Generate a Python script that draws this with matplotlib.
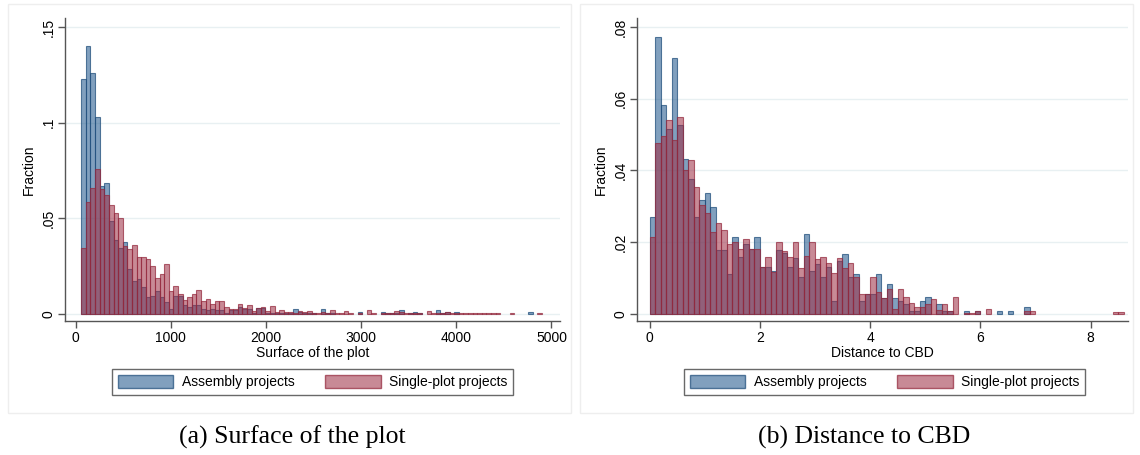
import numpy as np
import matplotlib
matplotlib.use("Agg")
import matplotlib.pyplot as plt
from matplotlib.patches import Patch, Rectangle

# ---------------- data ----------------
# (a) Surface of the plot: 100 bins
surf_bin_start = 58.0
surf_bin_width = 48.4
surf_assembly = [
    0.123, 0.140, 0.126, 0.103, 0.0668, 0.0685, 0.0488, 0.0385, 0.0344, 0.0376,
    0.0234, 0.017, 0.018, 0.014, 0.0086, 0.0094, 0.0119, 0.0091, 0.0063, 0.0028,
    0.0094, 0.0094, 0.0045, 0.0037, 0.0045, 0.0045, 0.0028, 0.002, 0.0028, 0.0019,
    0.0019, 0.0007, 0.0019, 0.0019, 0.0037, 0.0028, 0.0024, 0.0007, 0.003, 0.003,
    0.0007, 0.0007, 0.0007, 0.0003, 0.0003, 0.0003, 0.0028, 0.001, 0.0003, 0.0003,
    0.0003, 0, 0.0026, 0.0003, 0.0003, 0, 0, 0, 0, 0,
    0.0009, 0, 0, 0, 0, 0.0009, 0.0003, 0.0003, 0.0005, 0.0019,
    0, 0.0005, 0.0009, 0.0003, 0, 0, 0, 0.0019, 0.0003, 0.0009,
    0, 0.0009, 0, 0, 0, 0, 0, 0, 0, 0,
    0, 0, 0, 0, 0, 0, 0, 0.0009, 0, 0,
]
surf_single = [
    0.0343, 0.0587, 0.0659, 0.0759, 0.0654, 0.062, 0.0568, 0.0526, 0.05, 0.0355,
    0.0339, 0.036, 0.0295, 0.0295, 0.0287, 0.0252, 0.019, 0.0208, 0.0262, 0.012,
    0.0147, 0.0105, 0.0073, 0.0087, 0.0105, 0.0124, 0.007, 0.008, 0.0052, 0.007,
    0.0066, 0.0037, 0.0028, 0.0028, 0.0052, 0.003, 0.0045, 0.0017, 0.0031, 0.0037,
    0.0017, 0.004, 0.001, 0.002, 0.001, 0.001, 0.0007, 0.0014, 0.0009, 0.0014,
    0.0007, 0.0007, 0.001, 0.0007, 0.0021, 0.0007, 0.0007, 0.0014, 0.0007, 0,
    0.0005, 0, 0.0023, 0.0007, 0, 0.0005, 0.0007, 0.0007, 0.0017, 0.0012,
    0.0007, 0.0007, 0.0005, 0.0007, 0, 0.0016, 0.0007, 0.0007, 0.0007, 0.0011,
    0.0007, 0.0005, 0.0007, 0.0007, 0.0007, 0.0007, 0.0007, 0.0007, 0.0007, 0.0007,
    0.0007, 0, 0, 0.0007, 0, 0, 0, 0, 0, 0.0007,
]
surf_xticks = [0, 1000, 2000, 3000, 4000, 5000]
surf_yticks = [0, 0.05, 0.10, 0.15]
surf_yticklabels = ["0", ".05", ".1", ".15"]

# (b) Distance to CBD: 86 bins
dist_bin_start = 0.0
dist_bin_width = 0.1
dist_assembly = [
    0.0271, 0.0771, 0.0582, 0.0517, 0.0714, 0.0526, 0.0432, 0.0375, 0.0271, 0.0318,
    0.0337, 0.0299, 0.0179, 0.0179, 0.0112, 0.0214, 0.016, 0.0196, 0.0182, 0.0214,
    0.0132, 0.013, 0.0121, 0.0177, 0.017, 0.0131, 0.0157, 0.0102, 0.0223, 0.012,
    0.0139, 0.0102, 0.013, 0.0036, 0.0148, 0.0167, 0.0102, 0.0111, 0.0036, 0.0056,
    0.0056, 0.0111, 0.0044, 0.0083, 0.0045, 0.0036, 0.0028, 0.0007, 0.0007, 0.0036,
    0.0046, 0, 0.0027, 0.0008, 0.0008, 0, 0, 0.0008, 0, 0.0008,
    0, 0, 0, 0.0008, 0, 0.0008, 0, 0, 0.0019, 0,
    0, 0, 0, 0, 0, 0, 0, 0, 0, 0,
    0, 0, 0, 0, 0, 0,
]
dist_single = [
    0.0214, 0.0478, 0.0497, 0.0541, 0.0484, 0.055, 0.0402, 0.043, 0.0353, 0.0305,
    0.0281, 0.0229, 0.0253, 0.0233, 0.0195, 0.02, 0.018, 0.021, 0.0182, 0.018,
    0.0132, 0.016, 0.0117, 0.02, 0.0176, 0.016, 0.02, 0.0128, 0.0161, 0.02,
    0.0152, 0.016, 0.0141, 0.0113, 0.0156, 0.0128, 0.0141, 0.0102, 0.0056, 0.0056,
    0.0104, 0.0061, 0.0044, 0.0069, 0.0014, 0.007, 0.0046, 0.0031, 0.0019, 0.0019,
    0.0028, 0.0042, 0.0011, 0.0027, 0.0008, 0.0046, 0, 0.0004, 0.0004, 0.0008,
    0, 0.0013, 0, 0, 0, 0, 0, 0, 0.0008, 0.0008,
    0, 0, 0, 0, 0, 0, 0, 0, 0, 0,
    0, 0, 0, 0, 0.0005, 0.0005,
]
dist_xticks = [0, 2, 4, 6, 8]
dist_yticks = [0, 0.02, 0.04, 0.06, 0.08]
dist_yticklabels = ["0", ".02", ".04", ".06", ".08"]

series_labels = ["Assembly projects", "Single-plot projects"]
captions = ["(a) Surface of the plot", "(b) Distance to CBD"]
xlabels = ["Surface of the plot", "Distance to CBD"]

# ---------------- style ----------------
SANS = ["Liberation Sans", "DejaVu Sans"]
SERIF = ["Liberation Serif", "DejaVu Serif"]
plt.rcParams["font.family"] = SANS

ALPHA = 0.56
BLUE_FACE = (0.12, 0.34, 0.55, ALPHA)
BLUE_EDGE = (0.12, 0.30, 0.48, 0.72)
RED_FACE = (0.62, 0.18, 0.27, ALPHA)
RED_EDGE = (0.58, 0.16, 0.24, 0.72)
GRID = "#e8f0f2"
AXC = "#555555"

fig = plt.figure(figsize=(11.4, 4.55), dpi=100)
W, H = 1140, 455


def fx(px):
    return px / W


def fy(py):
    return 1 - py / H


# faint outer graph-region borders
for (l, r) in [(8, 571), (580, 1133)]:
    fig.patches.append(Rectangle((fx(l), fy(413)), fx(r - l), (413 - 4) / H,
                                 transform=fig.transFigure, fill=False,
                                 edgecolor="#eeeeee", linewidth=1.0, zorder=0))


def draw_panel(ax_rect, start, width, assembly, single, xlim, ylim,
               xticks, yticks, yticklabels, xlabel):
    ax = fig.add_axes(ax_rect)
    n = len(assembly)
    edges = start + width * np.arange(n)
    a = np.asarray(assembly)
    s = np.asarray(single)
    ma = a > 0
    ms = s > 0
    ax.bar(edges[ma], a[ma], width=width, align="edge",
           facecolor=BLUE_FACE, edgecolor=BLUE_EDGE, linewidth=0.8, zorder=2)
    ax.bar(edges[ms], s[ms], width=width, align="edge",
           facecolor=RED_FACE, edgecolor=RED_EDGE, linewidth=0.8, zorder=3)
    ax.set_xlim(*xlim)
    ax.set_ylim(*ylim)
    ax.set_xticks(xticks)
    ax.set_xticklabels([str(t) for t in xticks])
    ax.set_yticks(yticks)
    ax.set_yticklabels(yticklabels, rotation=90, va="center")
    for t in yticks:
        ax.axhline(t, color=GRID, linewidth=1.0, zorder=1)
    for sp in ["top", "right"]:
        ax.spines[sp].set_visible(False)
    for sp in ["left", "bottom"]:
        ax.spines[sp].set_color(AXC)
        ax.spines[sp].set_linewidth(1.0)
    ax.tick_params(axis="both", direction="out", length=5, width=1.0,
                   color=AXC, labelsize=10, labelcolor="black", pad=2)
    ax.set_xlabel(xlabel, fontsize=10, labelpad=1)
    ax.set_ylabel("Fraction", fontsize=10, labelpad=4)
    ax.patch.set_alpha(0)
    return ax


ax1 = draw_panel([fx(65), fy(321), fx(560 - 65), (321 - 18) / H],
                 surf_bin_start, surf_bin_width, surf_assembly, surf_single,
                 xlim=(-113, 5090), ylim=(-0.0037, 0.1547),
                 xticks=surf_xticks, yticks=surf_yticks,
                 yticklabels=surf_yticklabels, xlabel=xlabels[0])
ax2 = draw_panel([fx(637), fy(321), fx(1128 - 637), (321 - 18) / H],
                 dist_bin_start, dist_bin_width, dist_assembly, dist_single,
                 xlim=(-0.227, 8.68), ylim=(-0.00195, 0.0825),
                 xticks=dist_xticks, yticks=dist_yticks,
                 yticklabels=dist_yticklabels, xlabel=xlabels[1])

handles = [Patch(facecolor=BLUE_FACE, edgecolor=BLUE_EDGE, linewidth=1.0),
           Patch(facecolor=RED_FACE, edgecolor=RED_EDGE, linewidth=1.0)]
for cx in (312.5, 884.5):
    leg = fig.legend(handles, series_labels, loc="center",
                     bbox_to_anchor=(fx(cx), fy(382)), ncol=2, frameon=True,
                     fancybox=False, fontsize=10, handlelength=4.0,
                     handleheight=1.1, handletextpad=0.6, columnspacing=2.2,
                     borderpad=0.45, borderaxespad=0)
    leg.get_frame().set_edgecolor("#444444")
    leg.get_frame().set_linewidth(1.0)

fig.text(fx(292), fy(437), captions[0], ha="center", va="center",
         fontsize=18.5, family=SERIF)
fig.text(fx(864), fy(437), captions[1], ha="center", va="center",
         fontsize=18.5, family=SERIF)

fig.savefig("out.png", dpi=100)
